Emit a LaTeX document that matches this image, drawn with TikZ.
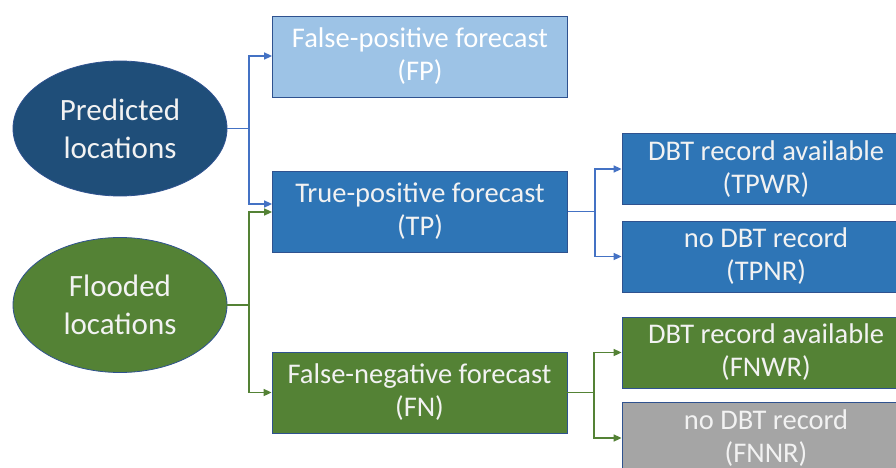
\documentclass[tikz,border=0pt]{standalone}
\usepackage{fontspec}
\setmainfont{Carlito}
\usetikzlibrary{shapes.geometric,arrows.meta}
\definecolor{darkblue}{HTML}{1F4E79}
\definecolor{midblue}{HTML}{2E75B6}
\definecolor{lightblue}{HTML}{9DC3E6}
\definecolor{darkgreen}{HTML}{548235}
\definecolor{greybox}{HTML}{A5A5A5}
\definecolor{edgeblue}{HTML}{2F528F}
\definecolor{linkblue}{HTML}{4472C4}
\definecolor{txt}{HTML}{F2F2F2}
\begin{document}
\begin{tikzpicture}[x=1pt,y=-1pt,
  oval/.style={ellipse,draw=edgeblue,line width=0.8pt,minimum width=214pt,minimum height=135pt,inner sep=0pt,
    text=txt,align=center,font=\fontsize{31}{38}\selectfont},
  box/.style={rectangle,draw=edgeblue,line width=0.8pt,inner sep=0pt,text=txt,align=center,
    font=\fontsize{28.5}{33}\selectfont},
  midbox/.style={box,minimum width=295pt,minimum height=81pt},
  sidebox/.style={box,minimum width=288pt,minimum height=71pt},
  bluelink/.style={draw=linkblue,line width=1.6pt,-{Triangle[length=8pt,width=7pt]}},
  greenlink/.style={draw=darkgreen,line width=1.6pt,-{Triangle[length=8pt,width=7pt]}}
]
\clip (0,0) rectangle (896,468);
\useasboundingbox (0,0) rectangle (896,468);
\fill[white] (0,0) rectangle (896,468);

\node[oval,fill=darkblue] (pred) at (120,128.5) {Predicted\\locations};
\node[oval,fill=darkgreen] (flood) at (120,305) {Flooded\\locations};

\node[midbox,fill=lightblue,text=white] (fp) at (420,56.5) {False-positive forecast\\(FP)};
\node[midbox,fill=midblue] (tp) at (420,211.5) {True-positive forecast\\(TP)};
\node[midbox,fill=darkgreen] (fn) at (419.5,392.5) {False-negative forecast\\(FN)};

\node[sidebox,fill=midblue] (tpwr) at (766,169) {DBT record available\\(TPWR)};
\node[sidebox,fill=midblue] (tpnr) at (766,256.5) {no DBT record\\(TPNR)};
\node[sidebox,fill=darkgreen] (fnwr) at (766,352.5) {DBT record available\\(FNWR)};
\node[sidebox,fill=greybox] (fnnr) at (766,438) {no DBT record\\(FNNR)};

\coordinate (jp) at (249,128.5);
\coordinate (jf) at (249,305);
\coordinate (jt) at (595,211.5);
\coordinate (jn) at (594,392.5);

\draw[draw=linkblue,line width=1.6pt] (pred.east) -- (jp);
\draw[bluelink] (jp) |- ([yshift=0.5pt]fp.west);
\draw[bluelink] (jp) |- ([yshift=7.5pt]tp.west);
\draw[draw=darkgreen,line width=1.6pt] (flood.east) -- (jf);
\draw[greenlink] (jf) |- ([yshift=-0.5pt]tp.west);
\draw[greenlink] (jf) |- (fn.west);

\draw[draw=linkblue,line width=1.6pt] (tp.east) -- (jt);
\draw[bluelink] (jt) |- (tpwr.west);
\draw[bluelink] (jt) |- (tpnr.west);
\draw[draw=darkgreen,line width=1.6pt] (fn.east) -- (jn);
\draw[greenlink] (jn) |- (fnwr.west);
\draw[greenlink] (jn) |- (fnnr.west);
\end{tikzpicture}
\end{document}
